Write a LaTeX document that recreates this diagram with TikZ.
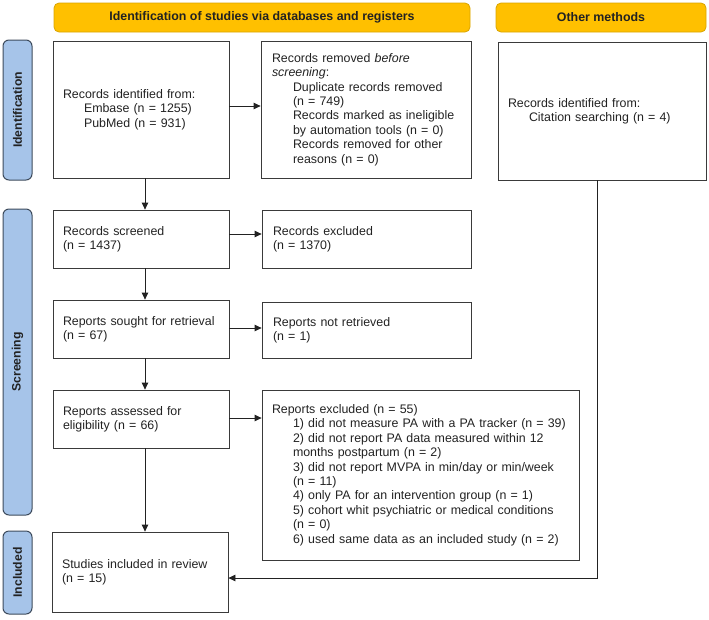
\documentclass[tikz,border=0pt]{standalone}
\usepackage{fontspec}
\setmainfont{Liberation Sans}
\usetikzlibrary{arrows.meta}
\definecolor{hdr}{HTML}{FFC000}
\definecolor{hdrline}{HTML}{D9A400}
\definecolor{side}{HTML}{A6C4E9}
\definecolor{sideline}{HTML}{3D4B5C}
\definecolor{boxline}{HTML}{3A3A3A}
\definecolor{txt}{HTML}{222222}
\newcommand{\ind}{\hspace*{21pt}}
\newcommand{\boxfont}{\fontsize{12.4}{14.4}\selectfont}
\begin{document}
\begin{tikzpicture}[x=1pt,y=-1pt,
  header/.style={fill=hdr, draw=hdrline, line width=0.8pt, rounded corners=5pt,
    text=txt, font=\bfseries\fontsize{12.4}{14.4}\selectfont, inner sep=0pt, minimum height=29pt},
  phase/.style={fill=side, draw=sideline, line width=1pt, rounded corners=6pt,
    rotate=90, minimum height=29pt, inner sep=0pt, text=txt,
    font=\bfseries\fontsize{12.2}{14.4}\selectfont},
  box/.style={draw=boxline, line width=0.8pt, inner xsep=10pt, inner ysep=0pt,
    align=left, text=txt, font=\boxfont},
  arr/.style={draw=txt, line width=0.8pt, -{Triangle[length=7pt,width=6.5pt]}}
]
\useasboundingbox (0,0) rectangle (709,619);

% headers
\node[header, minimum width=416pt] (h1) at (262,17.5) {Identification of studies via databases and registers};
\node[header, minimum width=210pt] (h2) at (601,17.5) {Other methods};

% phase labels
\node[phase, minimum width=140pt] (pid) at (17.5,110) {Identification};
\node[phase, minimum width=306pt] (pscr) at (17.5,362) {Screening};
\node[phase, minimum width=83pt] (pinc) at (17.5,572.5) {Included};

% boxes
\node[box, text width=156pt, minimum height=137pt] (b1) at (141,109.5)
  {\boxfont Records identified from:\\ \ind Embase (n = 1255)\\ \ind PubMed (n = 931)};
\node[box, inner xsep=11pt, text width=188pt, minimum height=137pt] (b2) at (366,109.5)
  {\boxfont Records removed \textit{before}\\ \textit{screening}:\\
   \ind Duplicate records removed\\ \ind (n = 749)\\
   \ind Records marked as ineligible\\ \ind by automation tools (n = 0)\\
   \ind Records removed for other\\ \ind reasons (n = 0)};
\node[box, text width=188pt, minimum height=138pt] (cit) at (602,111)
  {\boxfont Records identified from:\\ \ind Citation searching (n = 4)};

\node[box, text width=156pt, minimum height=58pt] (scr) at (141,239)
  {\boxfont Records screened\\ (n = 1437)};
\node[box, inner xsep=11pt, text width=187pt, minimum height=58pt] (exc) at (366.5,239)
  {\boxfont Records excluded\\ (n = 1370)};

\node[box, text width=156pt, minimum height=58pt] (sou) at (141,329)
  {\boxfont Reports sought for retrieval\\ (n = 67)};
\node[box, inner xsep=11pt, text width=187pt, minimum height=56pt] (nret) at (366.5,330)
  {\boxfont Reports not retrieved\\ (n = 1)};

\node[box, text width=156pt, minimum height=58pt] (ass) at (141,419)
  {\boxfont Reports assessed for\\ eligibility (n = 66)};
\node[box, text width=297pt, minimum height=170pt] (rex) at (420.5,475)
  {\boxfont Reports excluded (n = 55)\\
   \ind 1) did not measure PA with a PA tracker (n = 39)\\
   \ind 2) did not report PA data measured within 12\\
   \ind months postpartum (n = 2)\\
   \ind 3) did not report MVPA in min/day or min/week\\
   \ind (n = 11)\\
   \ind 4) only PA for an intervention group (n = 1)\\
   \ind 5) cohort whit psychiatric or medical conditions\\
   \ind (n = 0)\\
   \ind 6) used same data as an included study (n = 2)};

\node[box, text width=156pt, minimum height=80pt] (stu) at (140,572)
  {\boxfont Studies included in review\\ (n = 15)};

% connectors
\draw[arr] ([yshift=3.5pt]b1.east) -- ([yshift=3.5pt]b2.west);
\draw[arr] ([yshift=5pt]scr.east) -- ([yshift=5pt]exc.west);
\draw[arr] ([yshift=1pt]sou.east) -- ([yshift=2pt]nret.west);
\draw[arr] ([yshift=1pt]ass.east) -- ([yshift=57pt]rex.west);

\draw[arr] ([xshift=4pt]b1.south) -- ([xshift=4pt]scr.north);
\draw[arr] ([xshift=4pt]scr.south) -- ([xshift=4pt]sou.north);
\draw[arr] ([xshift=4pt]sou.south) -- ([xshift=4pt]ass.north);
\draw[arr] ([xshift=4pt]ass.south) -- ([xshift=5pt]stu.north);

\draw[arr] ([xshift=-5pt]cit.south) |- ([yshift=-6pt]stu.east);
\end{tikzpicture}
\end{document}
